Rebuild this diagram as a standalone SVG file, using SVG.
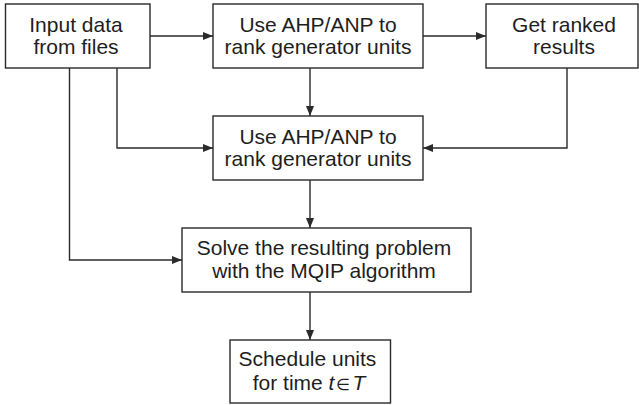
<svg xmlns="http://www.w3.org/2000/svg" width="639" height="405" viewBox="0 0 639 405">
  <style>
    .box { fill: #ffffff; stroke: #2a2a2a; stroke-width: 1.4; }
    .lbl { font-family: "Liberation Sans", Arial, sans-serif; font-size: 21px; fill: #1e1e1e; text-anchor: middle; }
    .wire { fill: none; stroke: #2a2a2a; stroke-width: 1.4; }
    .it { font-style: italic; }
    .sym { font-size: 16px; }
  </style>
  <defs>
    <marker id="arrow" viewBox="0 0 10 8" refX="10" refY="4" markerWidth="10" markerHeight="8" markerUnits="userSpaceOnUse" orient="auto">
      <path d="M0,0 L10,4 L0,8 Z" fill="#2a2a2a"/>
    </marker>
  </defs>

  <g id="connectors">
    <path class="wire" d="M150,36 H213" marker-end="url(#arrow)"/>
    <path class="wire" d="M423,36 H486" marker-end="url(#arrow)"/>
    <path class="wire" d="M310,68 V116" marker-end="url(#arrow)"/>
    <path class="wire" d="M117,68 V148 H213" marker-end="url(#arrow)"/>
    <path class="wire" d="M567,68 V148 H423" marker-end="url(#arrow)"/>
    <path class="wire" d="M310,180 V228" marker-end="url(#arrow)"/>
    <path class="wire" d="M69.5,68 V260 H182" marker-end="url(#arrow)"/>
    <path class="wire" d="M310,292 V340" marker-end="url(#arrow)"/>
  </g>

  <g id="input">
    <rect class="box" x="5.5" y="4" width="144.5" height="64"/>
    <text class="lbl" x="76" y="31.5">Input data</text>
    <text class="lbl" x="76" y="53.5">from files</text>
  </g>

  <g id="rank-top">
    <rect class="box" x="213" y="4" width="210" height="64"/>
    <text class="lbl" x="318" y="31.5">Use AHP/ANP to</text>
    <text class="lbl" x="318" y="53.5">rank generator units</text>
  </g>

  <g id="ranked">
    <rect class="box" x="486" y="4" width="152" height="64"/>
    <text class="lbl" x="564" y="31.5">Get ranked</text>
    <text class="lbl" x="564" y="53.5">results</text>
  </g>

  <g id="rank-mid">
    <rect class="box" x="213" y="116" width="210" height="64"/>
    <text class="lbl" x="318" y="143.5">Use AHP/ANP to</text>
    <text class="lbl" x="318" y="165.5">rank generator units</text>
  </g>

  <g id="solve">
    <rect class="box" x="182" y="228" width="289" height="64"/>
    <text class="lbl" x="324" y="255">Solve the resulting problem</text>
    <text class="lbl" x="324" y="278">with the MQIP algorithm</text>
  </g>

  <g id="schedule">
    <rect class="box" x="230" y="340" width="160.5" height="63"/>
    <text class="lbl" x="307.5" y="366">Schedule units</text>
    <text class="lbl" x="309" y="390">for time <tspan class="it">t</tspan><tspan class="sym" dx="2">∈</tspan><tspan class="it" dx="2">T</tspan></text>
  </g>
</svg>
